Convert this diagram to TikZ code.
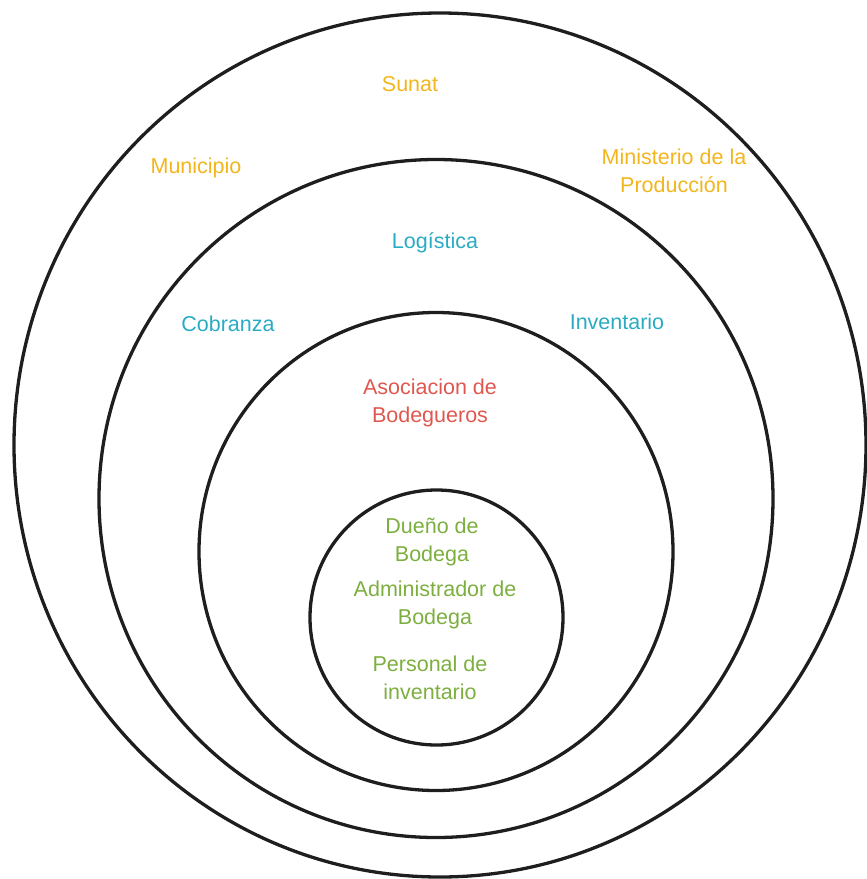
\documentclass[tikz,border=0pt]{standalone}
\usepackage{fontspec}
\setmainfont{Liberation Sans}
\definecolor{cyel}{HTML}{F2B51C}
\definecolor{ccya}{HTML}{2AABC4}
\definecolor{cred}{HTML}{E0574F}
\definecolor{cgrn}{HTML}{7CAF3F}
\definecolor{cline}{HTML}{1E1E1E}
\tikzset{
  ring/.style={draw=cline, line width=3.3pt},
  lbl/.style={inner sep=0pt, align=center, font=\fontsize{21.5}{28}\selectfont},
}
\begin{document}
\begin{tikzpicture}[x=1pt,y=-1pt]
\useasboundingbox (0,0) rectangle (867,879);
% rings
\draw[ring] (440,445) ellipse [x radius=426, y radius=432];
\draw[ring] (436,498.5) ellipse [x radius=337, y radius=339];
\draw[ring] (436,551.5) ellipse [x radius=237, y radius=239];
\draw[ring] (436.5,617.5) ellipse [x radius=126.5, y radius=127.5];
% outer layer
\node[lbl, text=cyel] (sunat) at (410,84) {Sunat};
\node[lbl, text=cyel] (muni) at (196,168) {Municipio};
\node[lbl, text=cyel] (minis) at (674,171) {Ministerio de la\\Producción};
% second layer
\node[lbl, text=ccya] (logis) at (435,243) {Logística};
\node[lbl, text=ccya] (cobra) at (228,324) {Cobranza};
\node[lbl, text=ccya] (inven) at (617,322) {Inventario};
% third layer
\node[lbl, text=cred] (asoc) at (430,403) {Asociacion de\\Bodegueros};
% inner
\node[lbl, text=cgrn] (duen) at (432,542) {Dueño de\\Bodega};
\node[lbl, text=cgrn] (admin) at (435,605) {Administrador de\\Bodega};
\node[lbl, text=cgrn] (pers) at (430,678) {Personal de\\inventario};
\end{tikzpicture}
\end{document}
